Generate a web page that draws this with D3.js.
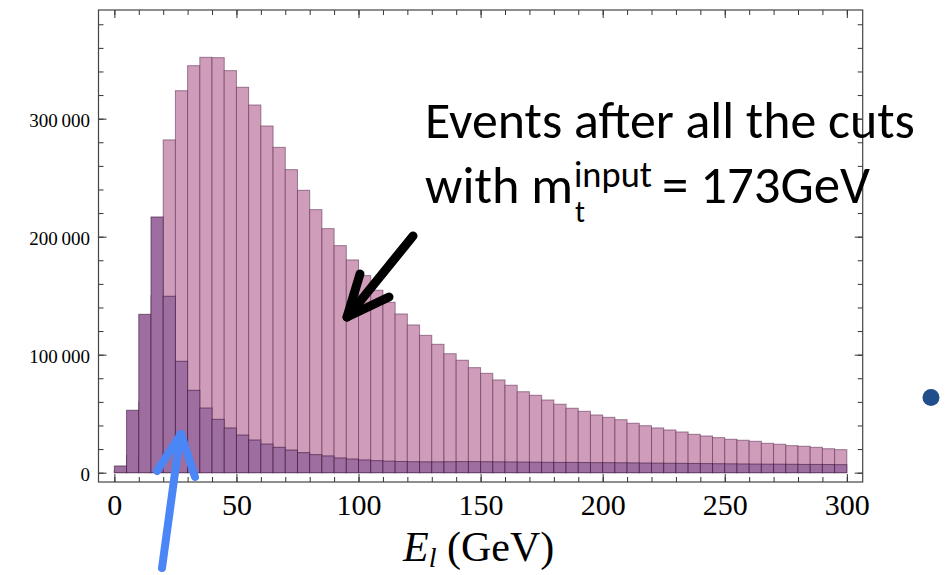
<!DOCTYPE html>
<html>
<head>
<meta charset="utf-8">
<script src="https://cdn.jsdelivr.net/npm/d3@7"></script>
<style>
  html, body { margin: 0; padding: 0; background: #fff; }
  svg { display: block; }
</style>
</head>
<body>
<svg id="chart" width="951" height="575"></svg>
<script>
// Lepton energy histogram, 5 GeV bins
const binStarts = [0, 5, 10, 15, 20, 25, 30, 35, 40, 45, 50, 55, 60, 65, 70, 75, 80, 85, 90, 95,
  100, 105, 110, 115, 120, 125, 130, 135, 140, 145, 150, 155, 160, 165, 170, 175, 180, 185, 190, 195,
  200, 205, 210, 215, 220, 225, 230, 235, 240, 245, 250, 255, 260, 265, 270, 275, 280, 285, 290, 295];
const binWidth = 5;

// all events after cuts (light series)
const allEvents = [2000, 15000, 60000, 150000, 282000, 323700, 344900, 352000, 351700, 340700,
  326600, 311600, 293800, 275700, 256800, 239300, 222900, 206800, 192400, 180300,
  167000, 154600, 144400, 134500, 125200, 116400, 108800, 100800, 95300, 89000,
  84200, 78600, 74100, 68600, 65600, 61600, 58000, 54600, 52000, 48900,
  46900, 44900, 41900, 39800, 37900, 36200, 34500, 32500, 31100, 29700,
  28300, 27500, 26600, 24900, 24100, 22900, 22400, 21500, 20300, 19500];

// second series (dark), drawn in front
const subsetEvents = [5700, 52900, 134200, 216700, 149500, 94400, 69800, 54800, 45200, 37900,
  31900, 27700, 24300, 21500, 19200, 17000, 15300, 14200, 12500, 11600,
  10800, 10200, 9800, 9500, 9300, 9200, 9200, 9300, 9400, 9400,
  9300, 9200, 9100, 9000, 8900, 8800, 8700, 8700, 8600, 8500,
  8500, 8400, 8300, 8200, 8100, 8000, 7900, 7800, 7700, 7600,
  7500, 7400, 7300, 7200, 7200, 7100, 7000, 7000, 6900, 6800];

const xMajorTicks = [0, 50, 100, 150, 200, 250, 300];
const xMinorTicks = [0, 10, 20, 30, 40, 50, 60, 70, 80, 90, 100, 110, 120, 130, 140, 150, 160, 170, 180, 190,
  200, 210, 220, 230, 240, 250, 260, 270, 280, 290, 300];
const yMajorTicks = [0, 100000, 200000, 300000];
const yTickLabels = ["0", "100\u2009000", "200\u2009000", "300\u2009000"];
const yMinorTicks = [0, 20000, 40000, 60000, 80000, 100000, 120000, 140000, 160000, 180000, 200000,
  220000, 240000, 260000, 280000, 300000, 320000, 340000, 360000, 380000];

const svg = d3.select("#chart");
const frame = { left: 98.5, right: 862.7, top: 10, bottom: 482 };

const x = d3.scaleLinear().domain([-6.5, 306.5]).range([frame.left, frame.right]);
const y = d3.scaleLinear().domain([-7900, 392100]).range([frame.bottom, frame.top]);

svg.append("rect").attr("width", 951).attr("height", 575).attr("fill", "#fff");

const bins = binStarts.map((s, i) => ({ s, a: allEvents[i], b: subsetEvents[i] }));

function drawBars(key, fill, stroke) {
  svg.append("g").selectAll("rect").data(bins).join("rect")
    .attr("x", d => x(d.s))
    .attr("width", d => x(d.s + binWidth) - x(d.s))
    .attr("y", d => y(d[key]))
    .attr("height", d => y(0) - y(d[key]))
    .attr("fill", fill)
    .attr("stroke", stroke)
    .attr("stroke-width", 1);
}
drawBars("a", "#cf9db9", "rgba(90,40,80,0.55)");
drawBars("b", "#9d6e9f", "rgba(60,20,60,0.6)");

// frame with inward ticks on all four sides
const tickColor = "#333";
function styleAxis(g) {
  g.select(".domain").remove();
  g.selectAll(".tick line").attr("stroke", tickColor).attr("stroke-width", 1);
}
const noLabel = () => "";

svg.append("g").attr("transform", `translate(0,${frame.bottom})`)
  .call(d3.axisBottom(x).tickValues(xMinorTicks).tickSizeInner(-5).tickSizeOuter(0).tickFormat(noLabel)).call(styleAxis);
const xb = svg.append("g").attr("transform", `translate(0,${frame.bottom})`)
  .call(d3.axisBottom(x).tickValues(xMajorTicks).tickSizeInner(-8).tickSizeOuter(0).tickPadding(12)).call(styleAxis);
xb.selectAll(".tick text")
  .attr("font-family", "'Liberation Serif', 'Times New Roman', serif")
  .attr("font-size", 30).attr("fill", "#000").attr("dy", "0.71em");

svg.append("g").attr("transform", `translate(0,${frame.top})`)
  .call(d3.axisTop(x).tickValues(xMinorTicks).tickSizeInner(-5).tickSizeOuter(0).tickFormat(noLabel)).call(styleAxis);
svg.append("g").attr("transform", `translate(0,${frame.top})`)
  .call(d3.axisTop(x).tickValues(xMajorTicks).tickSizeInner(-8).tickSizeOuter(0).tickFormat(noLabel)).call(styleAxis);

svg.append("g").attr("transform", `translate(${frame.left},0)`)
  .call(d3.axisLeft(y).tickValues(yMinorTicks).tickSizeInner(-5).tickSizeOuter(0).tickFormat(noLabel)).call(styleAxis);
const yl = svg.append("g").attr("transform", `translate(${frame.left},0)`)
  .call(d3.axisLeft(y).tickValues(yMajorTicks).tickSizeInner(-8).tickSizeOuter(0).tickPadding(8.5)
    .tickFormat((d, i) => yTickLabels[i])).call(styleAxis);
yl.selectAll(".tick text")
  .attr("font-family", "'Liberation Serif', 'Times New Roman', serif")
  .attr("font-size", 19).attr("fill", "#000").attr("dy", "0.42em");

svg.append("g").attr("transform", `translate(${frame.right},0)`)
  .call(d3.axisRight(y).tickValues(yMinorTicks).tickSizeInner(-5).tickSizeOuter(0).tickFormat(noLabel)).call(styleAxis);
svg.append("g").attr("transform", `translate(${frame.right},0)`)
  .call(d3.axisRight(y).tickValues(yMajorTicks).tickSizeInner(-8).tickSizeOuter(0).tickFormat(noLabel)).call(styleAxis);

svg.append("rect")
  .attr("x", frame.left).attr("y", frame.top)
  .attr("width", frame.right - frame.left).attr("height", frame.bottom - frame.top)
  .attr("fill", "none").attr("stroke", "#444").attr("stroke-width", 1.2);

// x axis title: E_l (GeV)
const serif = "'Liberation Serif', 'Times New Roman', serif";
const xt = svg.append("text").attr("x", 403).attr("y", 561).attr("font-family", serif).attr("fill", "#000");
xt.append("tspan").attr("font-style", "italic").attr("font-size", 42).text("E");
xt.append("tspan").attr("font-style", "italic").attr("font-size", 28).attr("dy", 6).text("l");
xt.append("tspan").attr("font-size", 42).attr("dy", -6).text("\u00a0(GeV)");

// annotation text; each piece is sized to span its slot
const sans = "Carlito, Calibri, Lato, 'Open Sans', sans-serif";
function fitText(xPos, yPos, str, width, anchor) {
  const t = svg.append("text").attr("x", xPos).attr("y", yPos)
    .attr("font-family", sans).attr("font-size", 40).attr("fill", "#000")
    .attr("text-anchor", anchor || "start").text(str);
  const w = t.node().getComputedTextLength();
  t.attr("font-size", 40 * width / w);
  return t;
}
fitText(425, 138, "Events after all the cuts", 490);
fitText(425, 203, "with m", 148);
fitText(575, 222, "t", 10);
fitText(574, 187, "input", 78);
fitText(870, 203, "= 173GeV", 208, "end");

// arrows
const arrowBlack = [[[413, 236], [349, 315]], [[347, 317], [360, 274]], [[347, 317], [389, 297]]];
const arrowBlue = [[[162, 568], [180, 436]], [[181, 434], [157, 471]], [[181, 434], [195, 477]]];
const lineGen = d3.line();
svg.append("g").selectAll("path").data(arrowBlack).join("path")
  .attr("d", lineGen).attr("stroke", "#000").attr("stroke-width", 9)
  .attr("stroke-linecap", "round").attr("fill", "none");
svg.append("g").selectAll("path").data(arrowBlue).join("path")
  .attr("d", lineGen).attr("stroke", "#4a86f6").attr("stroke-width", 8)
  .attr("stroke-linecap", "round").attr("fill", "none");

// bullet
svg.append("circle").attr("cx", 931).attr("cy", 397.5).attr("r", 8.5).attr("fill", "#1f4e8a");
</script>
</body>
</html>
